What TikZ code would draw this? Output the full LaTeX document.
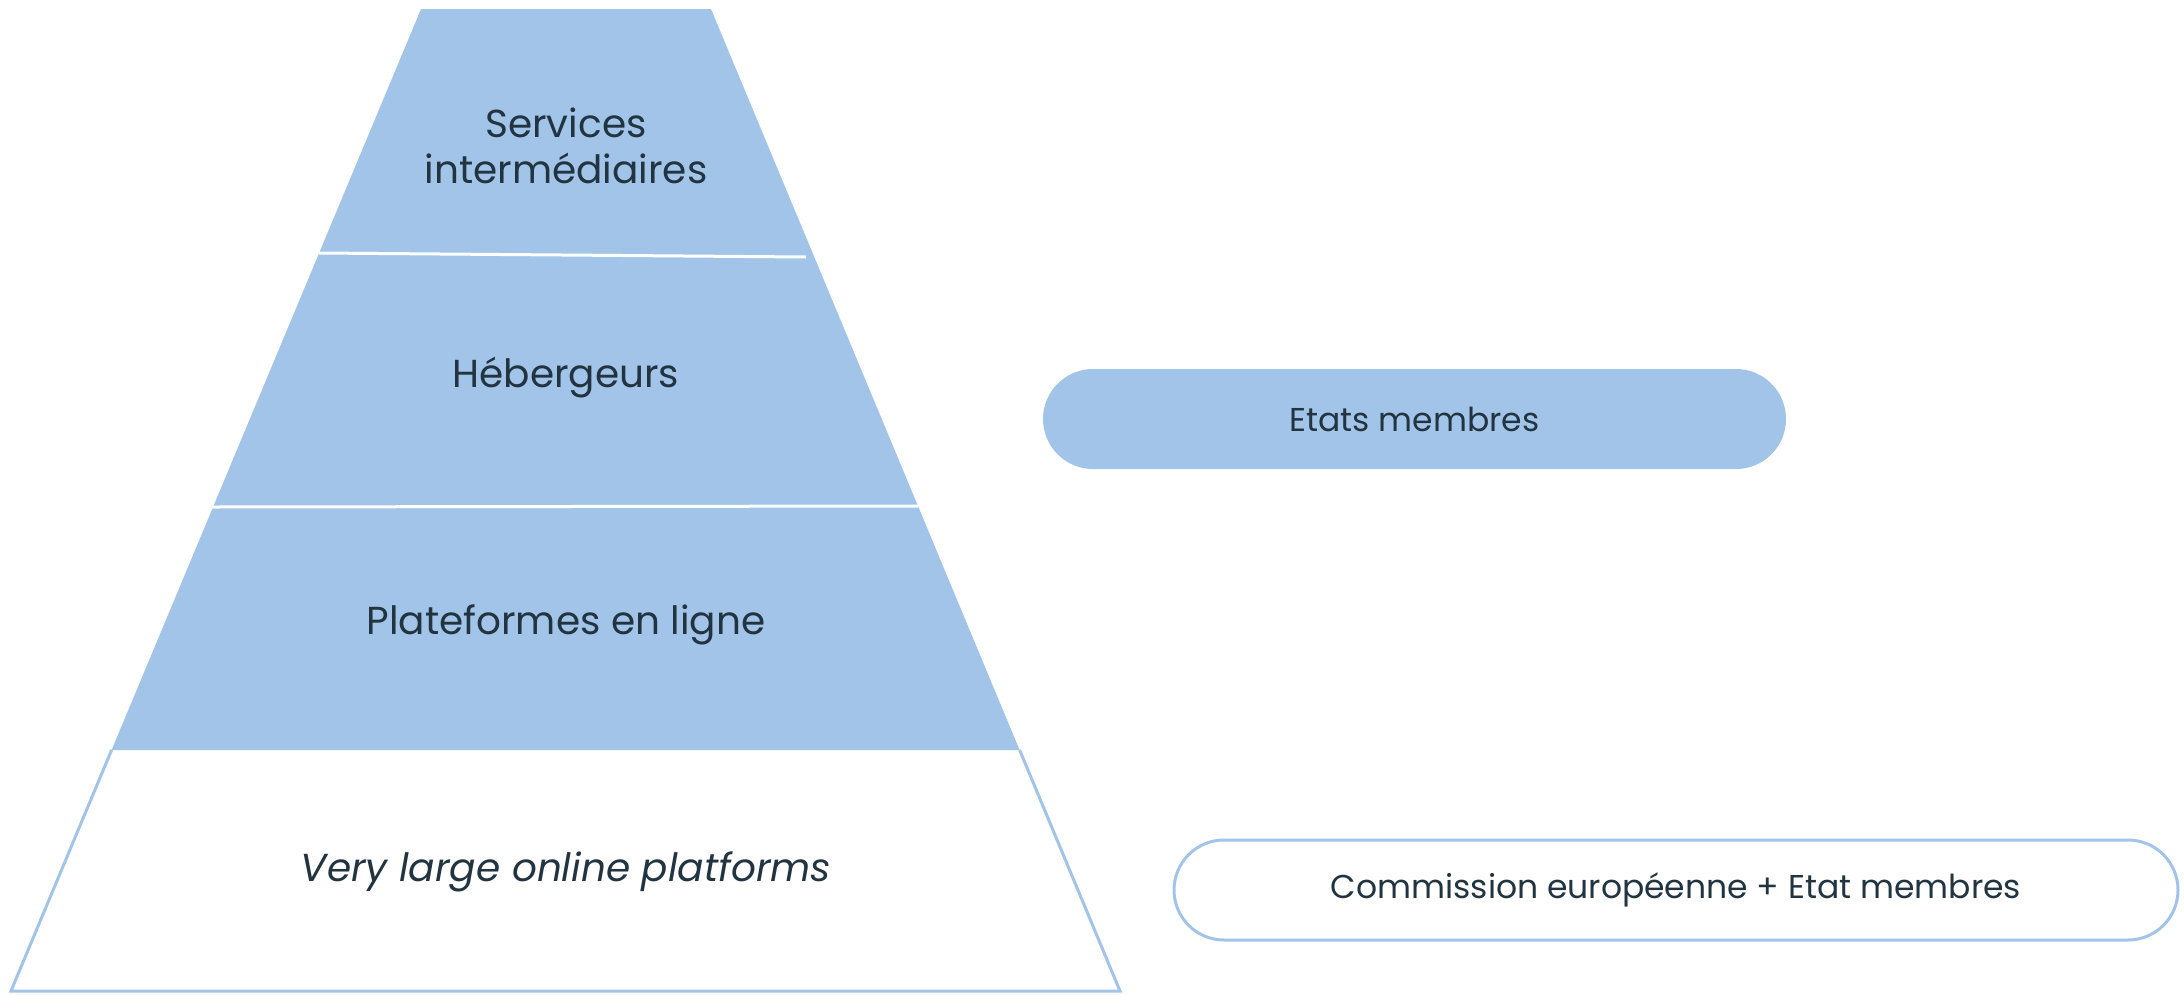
\documentclass[tikz,border=0pt]{standalone}
\usepackage{fontspec}
\setmainfont{Poppins}
\definecolor{pyr}{RGB}{162,196,233}
\definecolor{txt}{RGB}{33,52,64}
\begin{document}
\begin{tikzpicture}[x=1pt,y=-1pt,
  lbl/.style={text=txt,font=\fontsize{39}{46}\selectfont,align=center,inner sep=0pt},
  pill/.style={text=txt,font=\fontsize{33}{40}\selectfont,rounded corners=50pt,minimum height=100pt,inner sep=0pt},
  sep/.style={draw=white,line width=3pt},
  edge/.style={draw=pyr,line width=3pt,line join=miter}]
\useasboundingbox (0,0) rectangle (2184,994);
% coloured part of the pyramid
\fill[pyr] (421,9) -- (711,9) -- (1019.6,750) -- (111.6,750) -- cycle;
% separators
\coordinate (s1l) at (319,253);
\coordinate (s1r) at (806,257);
\coordinate (s2l) at (212,507);
\coordinate (s2r) at (918,506);
\draw[sep] (s1l) -- (s1r);
\draw[sep] (s2l) -- (s2r);
% bottom band
\coordinate (b1) at (111.6,750);
\coordinate (b2) at (11,991);
\coordinate (b3) at (1120,991);
\coordinate (b4) at (1019.6,750);
\draw[edge] (b1) -- (b2) -- (b3) -- (b4);
% labels
\node[lbl] (services) at (566,146) {Services\\intermédiaires};
\node[lbl] (heb) at (566,378) {Hébergeurs};
\node[lbl] (plat) at (566,625) {Plateformes en ligne};
\node[lbl,font=\fontsize{39}{46}\selectfont\itshape] (vlop) at (566,872) {Very large online platforms};
% pills
\node[pill,fill=pyr,minimum width=743pt] (etats) at (1414.5,419) {Etats membres};
\node[pill,draw=pyr,line width=3pt,fill=white,minimum width=1004pt] (comm) at (1676,890) {Commission européenne + Etat membres};
\end{tikzpicture}
\end{document}
